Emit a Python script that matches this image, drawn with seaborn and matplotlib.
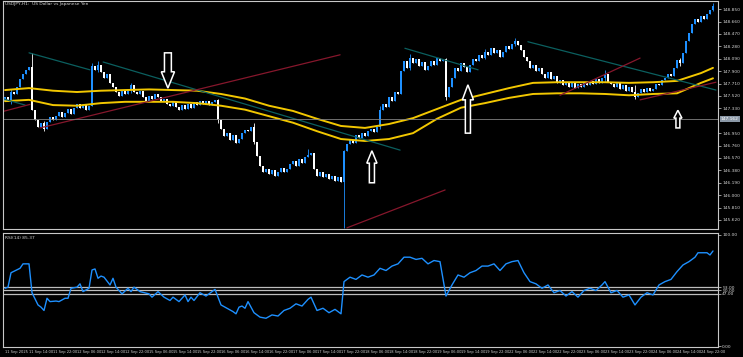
"""
USDJPY H1 chart with RSI(14) panel, redrawn from a terminal screenshot.
"""

import numpy as np
import pandas as pd
import matplotlib
matplotlib.use("Agg")  # no display
import matplotlib.pyplot as plt
import matplotlib.transforms as mtransforms
from matplotlib.patches import FancyArrow
import seaborn as sns

# ── Style ────────────────────────────────────────────────
sns.set_theme(style="dark", rc={
    "axes.facecolor": "black",
    "figure.facecolor": "black",
    "axes.edgecolor": "#c8c8c8",
    "axes.grid": False,
})
plt.rcParams["font.family"] = ["DejaVu Sans"]

BLUE = "#1e90ff"
BEAR = "#ffffff"
GOLD = "#f2c700"
TEAL = "#0b5f5f"
MAROON = "#86172c"
TXT = "#d2d2d2"

# ── Data: hourly closes, 11 Sep 06:00 -> 25 Sep 00:00 ────
first_open = 147.44
closes = [
    147.50, 147.45, 147.58, 147.55, 147.66, 147.78, 147.85, 147.92, 147.96, 147.30,
    147.15, 147.05, 147.10, 147.02, 147.12, 147.20, 147.15, 147.22, 147.28, 147.20,
    147.26, 147.32, 147.25, 147.34, 147.40, 147.33, 147.38, 147.30, 147.36, 147.98,
    147.92, 148.00, 147.88, 147.80, 147.85, 147.72, 147.65, 147.58, 147.52, 147.60,
    147.55, 147.62, 147.68, 147.58, 147.55, 147.60, 147.50, 147.45, 147.52, 147.48,
    147.55, 147.50, 147.44, 147.48, 147.40, 147.36, 147.42, 147.35, 147.30, 147.38,
    147.32, 147.40, 147.34, 147.42, 147.38, 147.44, 147.40, 147.45, 147.38, 147.42,
    147.46, 147.15, 147.02, 146.90, 146.95, 146.85, 146.92, 146.80, 146.86, 146.95,
    147.00, 146.98, 147.04, 146.82, 146.60, 146.45, 146.35, 146.40, 146.32, 146.38,
    146.30, 146.36, 146.42, 146.35, 146.40, 146.48, 146.52, 146.45, 146.55, 146.50,
    146.58, 146.62, 146.65, 146.40, 146.30, 146.35, 146.28, 146.33, 146.25, 146.30,
    146.22, 146.28, 146.20, 146.68, 146.78, 146.85, 146.80, 146.92, 146.88, 146.95,
    146.90, 146.98, 147.02, 146.96, 147.05, 147.30, 147.40, 147.35, 147.50, 147.45,
    147.58, 147.55, 147.90, 148.05, 147.95, 148.10, 148.02, 148.08, 147.98, 148.04,
    147.92, 147.98, 148.06, 148.00, 148.10, 148.05, 148.08, 147.50, 147.65, 147.80,
    147.95, 147.90, 148.02, 147.96, 147.88, 148.00, 148.08, 148.05, 148.15, 148.10,
    148.20, 148.15, 148.25, 148.18, 148.22, 148.12, 148.20, 148.28, 148.24, 148.32,
    148.36, 148.30, 148.22, 148.12, 148.05, 147.95, 148.00, 147.90, 147.95, 147.85,
    147.80, 147.88, 147.78, 147.82, 147.72, 147.76, 147.68, 147.74, 147.66, 147.72,
    147.64, 147.70, 147.66, 147.73, 147.68, 147.75, 147.70, 147.78, 147.72, 147.80,
    147.85, 147.74, 147.70, 147.66, 147.72, 147.62, 147.68, 147.60, 147.66, 147.58,
    147.50, 147.56, 147.62, 147.58, 147.64, 147.60, 147.62, 147.70, 147.68, 147.76,
    147.80, 147.86, 147.82, 147.95, 148.07, 148.03, 148.18, 148.36, 148.48, 148.62,
    148.70, 148.66, 148.74, 148.70, 148.78, 148.84, 148.90,
]

# visible wicks (bar, high, low)
wick_bars = [2, 9, 13, 29, 31, 42, 71, 83, 101, 113, 125, 135, 147, 160, 170, 200, 210, 225, 236]
wick_hi = [147.62, 148.18, 147.14, 148.02, 148.06, 147.72, 147.48, 147.10, 146.70, 146.69,
           147.36, 148.16, 148.10, 148.24, 148.40, 147.92, 147.69, 148.10, 148.94]
wick_lo = [147.40, 147.30, 146.98, 147.36, 147.88, 147.56, 147.10, 146.78, 146.58, 145.50,
           147.02, 147.92, 147.46, 148.08, 148.28, 147.74, 147.48, 147.98, 148.82]

# moving-average channel, read every 8 bars
ma_bars = [0, 8, 16, 24, 32, 40, 48, 56, 64, 72, 80, 88, 96, 104, 112, 120,
           128, 136, 144, 152, 160, 168, 176, 184, 192, 200, 208, 216, 224, 232, 236]
ma_upper = [147.61, 147.64, 147.60, 147.58, 147.60, 147.61, 147.62, 147.61, 147.60,
            147.55, 147.48, 147.37, 147.29, 147.17, 147.06, 147.03, 147.09, 147.18,
            147.32, 147.46, 147.55, 147.64, 147.72, 147.73, 147.73, 147.73, 147.72,
            147.73, 147.75, 147.87, 147.95]
ma_lower = [147.44, 147.46, 147.38, 147.37, 147.41, 147.43, 147.43, 147.43, 147.41,
            147.37, 147.31, 147.21, 147.11, 146.98, 146.86, 146.83, 146.86, 146.95,
            147.17, 147.34, 147.41, 147.49, 147.55, 147.56, 147.56, 147.55, 147.53,
            147.55, 147.56, 147.72, 147.79]

# RSI(14)
rsi_bars = [0, 1, 2, 5, 6, 8, 9, 11, 12, 13, 14, 15, 17, 18, 20, 21, 22, 24, 25, 26,
            28, 29, 30, 31, 32, 33, 35, 36, 37, 39, 41, 42, 43, 45, 48, 49, 51, 53, 55, 56,
            58, 60, 61, 62, 63, 65, 67, 69, 70, 72, 74, 76, 77, 78, 79, 80, 81, 83, 85, 87,
            89, 91, 93, 95, 97, 99, 101, 102, 104, 106, 108, 110, 112, 113, 115, 117, 119, 121, 123, 125,
            127, 129, 131, 133, 135, 137, 139, 141, 143, 145, 147, 149, 151, 153, 155, 157, 159, 161, 163, 165,
            167, 169, 171, 173, 175, 177, 179, 181, 183, 185, 187, 189, 191, 193, 195, 197, 199, 200, 202, 204,
            206, 208, 210, 212, 214, 216, 218, 220, 222, 224, 226, 228, 230, 231, 234, 235, 236]
rsi_vals = [52, 53, 66, 70, 74, 74, 48, 37, 35, 32, 43, 40, 40.5, 40, 43, 43, 52, 53, 56, 49,
            52, 68.5, 69.4, 61, 63, 62, 55, 61, 53, 47, 52, 49, 53, 49, 47, 44, 49, 44, 41, 44,
            40, 46, 40, 44, 41, 48, 45, 49, 51, 37, 34, 31, 29, 35, 36, 34, 40, 30, 26, 25,
            28, 27, 32, 34, 38, 36, 42, 44, 32, 34, 30, 33, 29, 58, 62, 60, 64, 62, 64, 70,
            68, 72, 74, 80, 80, 78, 79, 74, 77, 76, 45, 55, 64, 62, 66, 68, 72, 72, 74, 68,
            74, 76, 77, 66, 58, 56, 52, 55, 48, 50, 45, 49, 44, 50, 52, 50, 55, 58, 48, 50,
            44, 46, 37, 44, 48, 46, 55, 58, 60, 67, 73, 76, 80, 84, 84, 82, 85.6]
rsi_levels = [53, 50, 47]

# drawn objects: (bar, price) -> (bar, price)
teal_lines = [((-1.7, 147.49), (6.7, 147.38)), ((8, 148.18), (28.3, 147.92)),
              ((32.7, 148.04), (131.7, 146.69)), ((133.3, 148.25), (157.7, 147.92)),
              ((174.3, 148.35), (237.0, 147.61))]
red_lines = [((-1.7, 147.27), (8.3, 147.39)), ((11.7, 147.03), (111.7, 148.15)),
             ((114.0, 145.50), (146.7, 146.08)), ((185.0, 147.53), (211.7, 148.10)),
             ((211.7, 147.46), (237.0, 147.73))]
# arrows: bar, tail price, tip price, shaft width, head width, head length
arrows = [(54.3, 148.18, 147.64, 2.3, 4.4, 0.25),
          (122.3, 146.19, 146.68, 1.7, 3.4, 0.19),
          (154.3, 146.95, 147.69, 1.7, 3.7, 0.23),
          (224.3, 147.03, 147.30, 1.3, 2.7, 0.12)]

hline_price = 147.162
price_ticks = [148.85, 148.66, 148.47, 148.28, 148.09, 147.90, 147.71, 147.52, 147.33,
               146.95, 146.76, 146.57, 146.38, 146.19, 146.00, 145.81, 145.62]
time_labels = ["11 Sep 2025", "11 Sep 14:00", "11 Sep 22:00", "12 Sep 06:00", "12 Sep 14:00",
               "12 Sep 22:00", "15 Sep 06:00", "15 Sep 14:00", "15 Sep 22:00", "16 Sep 06:00",
               "16 Sep 14:00", "16 Sep 22:00", "17 Sep 06:00", "17 Sep 14:00", "17 Sep 22:00",
               "18 Sep 06:00", "18 Sep 14:00", "18 Sep 22:00", "19 Sep 06:00", "19 Sep 14:00",
               "19 Sep 22:00", "22 Sep 06:00", "22 Sep 14:00", "22 Sep 22:00", "23 Sep 06:00",
               "23 Sep 14:00", "23 Sep 22:00", "24 Sep 06:00", "24 Sep 14:00", "24 Sep 22:00"]

# ── Candle table ─────────────────────────────────────────
df = pd.DataFrame({"close": closes})
df["open"] = [first_open] + closes[:-1]
df["hi"] = df[["open", "close"]].max(axis=1)
df["lo"] = df[["open", "close"]].min(axis=1)
df.loc[wick_bars, "hi"] = wick_hi
df.loc[wick_bars, "lo"] = wick_lo
df["bull"] = df["close"] >= df["open"]
cols = np.where(df["bull"], BLUE, BEAR)

# ── Figure ───────────────────────────────────────────────
W, H = 743, 357
fig = plt.figure(figsize=(W / 100, H / 100), dpi=100)
ax = fig.add_axes([3 / W, 1 - 229 / H, 715 / W, 228 / H])
ax_r = fig.add_axes([3 / W, 1 - 347 / H, 715 / W, 114 / H], sharex=ax)

XLIM = (-0.67, 237.67)

# candles
ax.vlines(df.index, df["lo"], df["hi"], colors=cols, lw=0.6)
body = (df["close"] - df["open"]).abs().clip(lower=0.012)
ax.bar(df.index, body, bottom=df[["open", "close"]].min(axis=1),
       width=0.62, color=cols, linewidth=0)

# MA channel
sns.lineplot(x=ma_bars, y=ma_upper, ax=ax, color=GOLD, lw=1.4)
sns.lineplot(x=ma_bars, y=ma_lower, ax=ax, color=GOLD, lw=1.4)

# trendlines
for (x0, y0), (x1, y1) in teal_lines:
    ax.plot([x0, x1], [y0, y1], color=TEAL, lw=0.9)
for (x0, y0), (x1, y1) in red_lines:
    ax.plot([x0, x1], [y0, y1], color=MAROON, lw=0.9)

# horizontal line + price tag
ax.axhline(hline_price, color="#808080", lw=0.6)
trans = mtransforms.blended_transform_factory(ax.transAxes, ax.transData)
ax.text(1.004, hline_price, f"{hline_price:.3f}", transform=trans, fontsize=3.2,
        color="white", va="center", ha="left",
        bbox=dict(boxstyle="square,pad=0.25", fc="#8a97a6", ec="none"))

# hollow arrows
for x, y0, y1, sw, hw, hl in arrows:
    ax.add_patch(FancyArrow(x, y0, 0, y1 - y0, width=sw, head_width=hw,
                            head_length=hl, length_includes_head=True,
                            fc="black", ec="white", lw=1.1, zorder=5))

ax.set_xlim(*XLIM)
ax.set_ylim(145.482, 148.974)
ax.yaxis.tick_right()
ax.set_yticks(price_ticks)
ax.set_yticklabels([f"{v:.3f}" for v in price_ticks])
ax.tick_params(axis="y", colors=TXT, labelsize=3.2, length=2, width=0.5, pad=1)
ax.tick_params(axis="x", bottom=False, labelbottom=False)
ax.text(0.003, 0.995, "USDJPY,H1:  US Dollar vs Japanese Yen", transform=ax.transAxes,
        fontsize=3.2, color=TXT, va="top", ha="left")

# ── RSI panel ────────────────────────────────────────────
for lv in rsi_levels:
    ax_r.axhline(lv, color="#bdbdbd", lw=0.9)
sns.lineplot(x=rsi_bars, y=rsi_vals, ax=ax_r, color=BLUE, lw=1.0)
ax_r.set_ylim(-0.9, 101.8)
ax_r.yaxis.tick_right()
rsi_ticks = [100] + rsi_levels + [0]
ax_r.set_yticks(rsi_ticks)
ax_r.set_yticklabels([f"{v:.2f}" for v in rsi_ticks])
ax_r.tick_params(axis="y", colors=TXT, labelsize=3.2, length=2, width=0.5, pad=1)
ax_r.set_xticks(np.arange(len(time_labels)) * 8)
ax_r.set_xticklabels(time_labels, ha="left")
ax_r.tick_params(axis="x", colors=TXT, labelsize=2.6, length=2, width=0.5, pad=0.5)
ax_r.set_xlim(*XLIM)
ax_r.text(0.003, 0.97, "RSI(14) 85.37", transform=ax_r.transAxes,
          fontsize=3.2, color=TXT, va="top", ha="left")

for a in (ax, ax_r):
    a.set_xlabel("")
    a.set_ylabel("")
    for s in a.spines.values():
        s.set_color("#c8c8c8")
        s.set_linewidth(0.8)

plt.savefig("out.png", dpi=100, facecolor="black")
plt.close()
